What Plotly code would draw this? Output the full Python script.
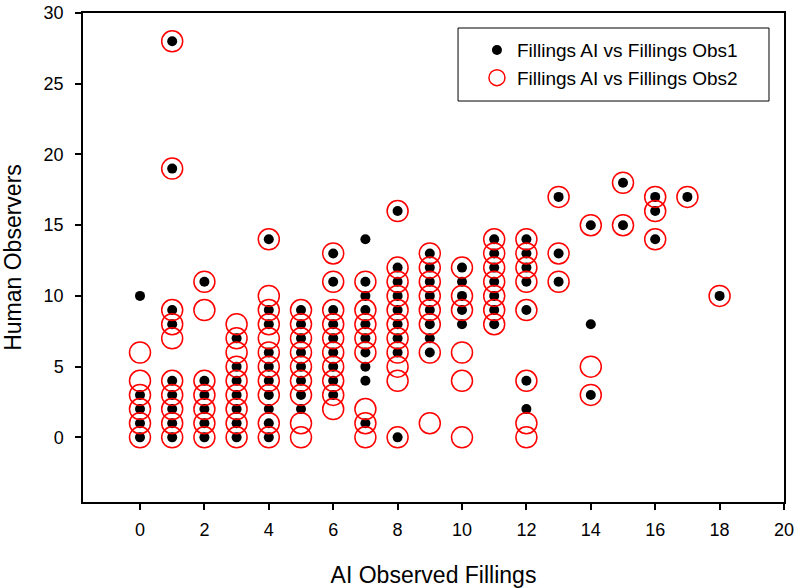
"""Scatter: AI observed fillings vs human observers."""

import plotly.graph_objects as go

# Fillings AI vs Fillings Obs1 (black dots)
obs1_x = (
    [0] * 5 + [1] * 9 + [2] * 6 + [3] * 7 + [4] * 10 + [5] * 8 + [6] * 9
    + [7] * 10 + [8] * 9 + [9] * 8 + [10] * 5 + [11] * 7 + [12] * 7
    + [13] * 3 + [14] * 3 + [15] * 2 + [16] * 3 + [17] + [18]
)
obs1_y = [
    10, 3, 2, 1, 0,
    28, 19, 9, 8, 4, 3, 2, 1, 0,
    11, 4, 3, 2, 1, 0,
    7, 5, 4, 3, 2, 1, 0,
    14, 9, 8, 6, 5, 4, 3, 2, 1, 0,
    9, 8, 7, 6, 5, 4, 3, 2,
    13, 11, 9, 8, 7, 6, 5, 4, 3,
    14, 11, 10, 9, 8, 7, 6, 5, 4, 1,
    16, 12, 11, 10, 9, 8, 7, 6, 0,
    13, 12, 11, 10, 9, 8, 7, 6,
    12, 11, 10, 9, 8,
    14, 13, 12, 11, 10, 9, 8,
    14, 13, 12, 11, 9, 4, 2,
    17, 13, 11,
    15, 8, 3,
    18, 15,
    17, 16, 14,
    17,
    10,
]

# Fillings AI vs Fillings Obs2 (red open circles)
obs2_x = (
    [0] * 6 + [1] * 10 + [2] * 7 + [3] * 9 + [4] * 11 + [5] * 9 + [6] * 10
    + [7] * 8 + [8] * 11 + [9] * 8 + [10] * 6 + [11] * 7 + [12] * 8
    + [13] * 3 + [14] * 3 + [15] * 2 + [16] * 3 + [17] + [18]
)
obs2_y = [
    6, 4, 3, 2, 1, 0,
    28, 19, 9, 8, 7, 4, 3, 2, 1, 0,
    11, 9, 4, 3, 2, 1, 0,
    8, 7, 6, 5, 4, 3, 2, 1, 0,
    14, 10, 9, 8, 7, 6, 5, 4, 3, 1, 0,
    9, 8, 7, 6, 5, 4, 3, 1, 0,
    13, 11, 9, 8, 7, 6, 5, 4, 3, 2,
    11, 9, 8, 7, 6, 2, 1, 0,
    16, 12, 11, 10, 9, 8, 7, 6, 5, 4, 0,
    13, 12, 11, 10, 9, 8, 6, 1,
    12, 10, 9, 6, 4, 0,
    14, 13, 12, 11, 10, 9, 8,
    14, 13, 12, 11, 9, 4, 1, 0,
    17, 13, 11,
    15, 5, 3,
    18, 15,
    17, 16, 14,
    17,
    10,
]

x_ticks = list(range(0, 21, 2))
y_ticks = list(range(0, 31, 5))

FONT = "Liberation Sans, Arial, sans-serif"

fig = go.Figure()
fig.add_trace(go.Scatter(
    x=obs1_x, y=obs1_y, mode="markers", name="Fillings AI vs Fillings Obs1",
    marker={"symbol": "circle", "size": 10, "color": "black"},
))
fig.add_trace(go.Scatter(
    x=obs2_x, y=obs2_y, mode="markers", name="Fillings AI vs Fillings Obs2",
    marker={"symbol": "circle-open", "size": 21, "color": "red", "line": {"width": 1.5, "color": "red"}},
))

axis_common = dict(
    showgrid=False, zeroline=False, showline=True, linecolor="black", linewidth=1.5,
    mirror=True, ticks="outside", ticklen=6, tickwidth=1.5, tickcolor="black",
    tickfont={"size": 18, "color": "black", "family": FONT},
    automargin=False, ticklabeloverflow="allow",
)
fig.update_xaxes(
    range=[-1.77, 20], tickvals=x_ticks, ticklabelstandoff=5,
    title={"text": "AI Observed Fillings", "font": {"size": 23, "color": "black", "family": FONT}, "standoff": 33},
    **axis_common,
)
fig.update_yaxes(
    range=[-4.57, 30], tickvals=y_ticks, ticklabelstandoff=8,
    title={"text": "Human Observers", "font": {"size": 23, "color": "black", "family": FONT}, "standoff": 19},
    **axis_common,
)

# legend frame drawn as a paper-space rectangle; the legend itself sits inside it
fig.add_shape(
    type="rect", xref="paper", yref="paper", x0=0.535, x1=0.9786, y0=0.820, y1=0.9693,
    line={"color": "black", "width": 1}, fillcolor="white", layer="above",
)
fig.update_layout(
    width=800, height=588,
    margin={"l": 83, "r": 16, "t": 13, "b": 86},
    plot_bgcolor="white", paper_bgcolor="white",
    font={"family": FONT, "color": "black"},
    legend={
        "x": 0.562, "y": 0.963, "xanchor": "left", "yanchor": "top",
        "borderwidth": 0, "bgcolor": "rgba(0,0,0,0)",
        "font": {"size": 19, "color": "black", "family": FONT},
        "itemsizing": "trace",
    },
)

# drop the default body margin so the figure sits at the window's corner
fig.write_html(
    "out.html",
    config={"displayModeBar": False},
    post_script="document.body.style.margin = '0';",
)
